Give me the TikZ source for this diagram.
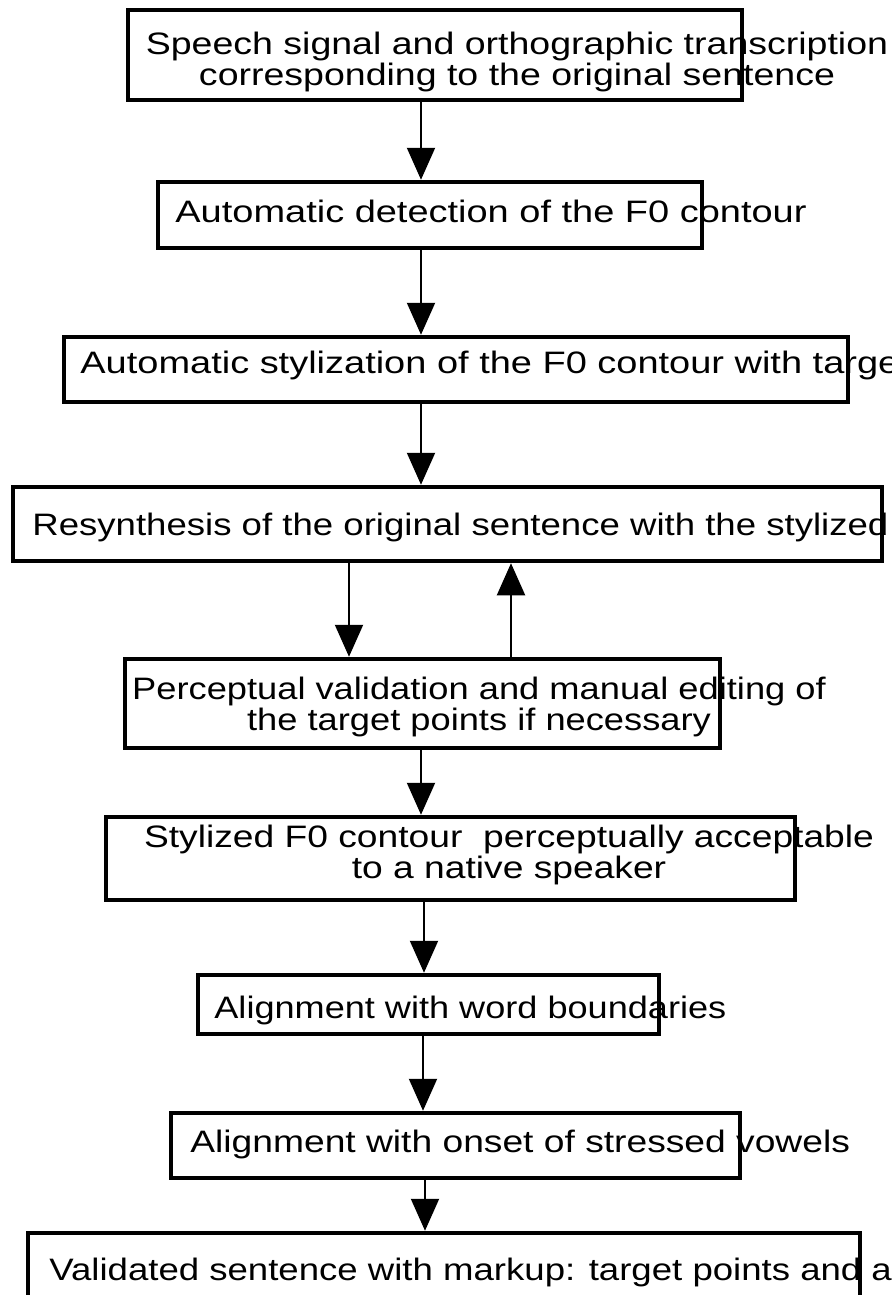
\documentclass[tikz,border=0pt]{standalone}
\usepackage{fontspec}
\setmainfont{Liberation Sans}
\usepackage{graphicx}
\usetikzlibrary{arrows.meta}
\newcommand{\wide}[2][1.18]{\scalebox{#1}[1]{#2}}

\begin{document}
\begin{tikzpicture}[x=0.5pt,y=-0.5pt,
  box/.style={draw,line width=2.25pt,inner sep=0pt},
  txt/.style={inner sep=0pt,font=\fontsize{15.5}{15.5}\selectfont},
  flow/.style={line width=1pt,-{Triangle[length=16pt,width=14pt]}}]
\useasboundingbox (0,0) rectangle (892,1295);
\node[box,minimum width=307pt,minimum height=45pt] (src) at (435,55) {};
\node[box,minimum width=272pt,minimum height=33pt] (detect) at (430,215) {};
\node[box,minimum width=392pt,minimum height=32.5pt] (stylize) at (456,369.5) {};
\node[box,minimum width=434.5pt,minimum height=37pt] (resynth) at (447.5,524) {};
\node[box,minimum width=297.5pt,minimum height=44.5pt] (valid) at (422.5,703.5) {};
\node[box,minimum width=344.5pt,minimum height=41.5pt] (accept) at (450.5,858.5) {};
\node[box,minimum width=230.5pt,minimum height=29.5pt] (wordal) at (428.5,1004.5) {};
\node[box,minimum width=284.5pt,minimum height=32.5pt] (vowelal) at (455.5,1145.5) {};
\node[box,minimum width=416pt,minimum height=54pt] (markup) at (444,1287) {};
\node[txt,align=center,anchor=base] (srctext) at (517,86) {\wide[1.21]{Speech signal and orthographic transcription}\\\wide[1.21]{corresponding to the original sentence}};
\node[txt,anchor=base west] (detecttext) at (175,222) {\wide[1.225]{Automatic detection of the F0 contour}};
\node[txt,anchor=base west] (stylizetext) at (80,373) {\wide[1.225]{Automatic stylization of the F0 contour with target}};
\node[txt,anchor=base west] (resynthtext) at (32,535) {\wide{Resynthesis of the original sentence with the stylized}};
\node[txt,align=center,anchor=base] (validtext) at (479,730) {\wide[1.17]{Perceptual validation and manual editing of}\\\wide[1.17]{the target points if necessary}};
\node[txt,align=center,anchor=base] (accepttext) at (509,878) {\wide[1.2]{Stylized F0 contour~ perceptually acceptable}\\\wide[1.2]{to a native speaker}};
\node[txt,anchor=base west] (wordaltext) at (214,1018) {\wide[1.165]{Alignment with word boundaries}};
\node[txt,anchor=base west] (vowelaltext) at (190,1152) {\wide[1.2]{Alignment with onset of stressed vowels}};
\node[txt,anchor=base west] (markuptext) at (49,1280) {\wide{Validated sentence with markup: target points and a}};
\draw[flow] (src.south -| 421,0) -- (detect.north -| 421,0);
\draw[flow] (detect.south -| 421,0) -- (stylize.north -| 421,0);
\draw[flow] (stylize.south -| 421,0) -- (resynth.north -| 421,0);
\draw[flow] (resynth.south -| 349,0) -- (valid.north -| 349,0);
\draw[flow] (valid.north -| 511,0) -- (resynth.south -| 511,0);
\draw[flow] (valid.south -| 421,0) -- (accept.north -| 421,0);
\draw[flow] (accept.south -| 424,0) -- (wordal.north -| 424,0);
\draw[flow] (wordal.south -| 423,0) -- (vowelal.north -| 423,0);
\draw[flow] (vowelal.south -| 425,0) -- (markup.north -| 425,0);
\end{tikzpicture}
\end{document}
